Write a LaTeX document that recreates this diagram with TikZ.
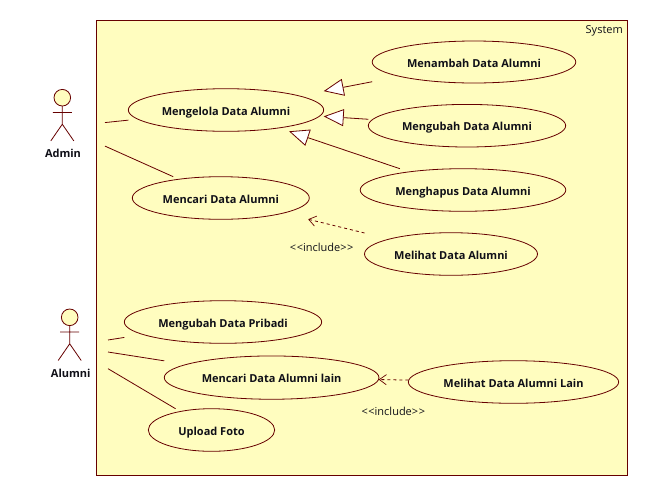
\documentclass[tikz,border=0pt]{standalone}
\usepackage{fontspec}
\setmainfont{Open Sans}
\usetikzlibrary{arrows.meta,shapes.geometric,calc}
\definecolor{umlline}{HTML}{660000}
\definecolor{umlfill}{HTML}{FFFDBF}
\definecolor{umltext}{HTML}{101018}
\tikzset{
  lineink/.style={draw=umlline,line width=0.8pt},
  frameshape/.style={lineink,fill=umlfill},
  ucshape/.style={ellipse,lineink,fill=umlfill,inner sep=0pt,text=umltext,text height=10pt,text depth=0pt,font=\fontsize{11}{13}\selectfont\bfseries},
  ucbox/.style={rectangle,inner sep=0pt,outer sep=0pt},
  actorbox/.style={rectangle,inner sep=0pt,outer sep=0pt},
  actorlabel/.style={inner sep=0pt,text=umltext,font=\fontsize{11}{13}\selectfont\bfseries},
  plainlabel/.style={inner sep=0pt,text=umltext,font=\fontsize{11}{13}\selectfont},
  assoc/.style={lineink},
  generalize/.style={lineink,-{Triangle[width=17pt,length=20pt,fill=white]}},
  includes/.style={lineink,dash pattern=on 3pt off 3pt,-{Straight Barb[length=7pt,width=10pt,line width=0.7pt,round]}}
}
% name, centre, full width, full height, text
\newcommand{\usecasenode}[5]{%
  \node[ucshape,minimum width=#3pt,minimum height=#4pt] (#1) at (#2) {#5};
  \node[ucbox,minimum width=#3pt,minimum height=#4pt] (#1box) at (#2) {};
}
% name, head centre
\newcommand{\stickfigure}[2]{%
  \coordinate (#1head) at (#2);
  \draw[lineink,fill=umlfill] (#1head) circle (8.3pt);
  \draw[lineink] ($(#1head)+(0,8.3)$) -- ($(#1head)+(0,26.5)$) coordinate (#1hip)
    (#1hip) -- ($(#1hip)+(-11.5,16.7)$)
    (#1hip) -- ($(#1hip)+(11.5,16.7)$)
    ($(#1head)+(-9.5,14.7)$) -- ($(#1head)+(9.5,14.7)$);
}
\begin{document}
\begin{tikzpicture}[x=1pt,y=-1pt]
\useasboundingbox (0,0) rectangle (648,496);
\fill[white] (0,0) rectangle (648,496);
\node[frameshape,rectangle,inner sep=0pt,minimum width=531pt,minimum height=455pt,anchor=north west] (system) at (96.3,20.3) {};
\node[plainlabel,anchor=north east] (systemlabel) at (623,25) {System};

\usecasenode{kelola}{226,110}{195.4}{42.6}{Mengelola Data Alumni}
\usecasenode{cari}{220.8,198}{177}{42.6}{Mencari Data Alumni}
\usecasenode{tambah}{474,62}{203.6}{42}{Menambah Data Alumni}
\usecasenode{ubah}{467,125.7}{197.4}{42.6}{Mengubah Data Alumni}
\usecasenode{hapus}{463,190}{205.6}{42.6}{Menghapus Data Alumni}
\usecasenode{lihat}{451,254}{173}{42.6}{Melihat Data Alumni}
\usecasenode{pribadi}{223,322}{197.4}{42.6}{Mengubah Data Pribadi}
\usecasenode{carilain}{271.6,377.6}{214.7}{43.3}{Mencari Data Alumni lain}
\usecasenode{foto}{211.5,430}{126.4}{42.6}{Upload Foto}
\usecasenode{lihatlain}{513.5,382}{210.4}{42.6}{Melihat Data Alumni Lain}

\stickfigure{adm}{62.3,97.7}
\stickfigure{alu}{69.7,317.3}
\node[actorbox,minimum width=85.4pt,minimum height=60pt] (admin) at (62.3,127) {};
\node[actorbox,minimum width=76.6pt,minimum height=60pt] (alumni) at (69.7,346) {};
\node[actorlabel] (adminlabel) at (63,153) {Admin};
\node[actorlabel] (alumnilabel) at (70.7,373) {Alumni};

\draw[assoc] (admin) -- (kelolabox);
\draw[assoc] (admin) -- (caribox);
\draw[assoc] (alumni) -- (pribadibox);
\draw[assoc] (alumni) -- (carilainbox);
\draw[assoc] (alumni) -- (fotobox);

\draw[generalize] (tambahbox) -- (kelolabox);
\draw[generalize] (ubahbox) -- (kelolabox);
\draw[generalize] (hapusbox) -- (kelolabox);

\draw[includes] (lihatbox) -- (caribox);
\draw[includes] (lihatlainbox) -- (carilainbox);

\node[plainlabel] (inc1) at (321.7,247.3) {<{\kern0.6pt}<include>{\kern0.6pt}>};
\node[plainlabel] (inc2) at (393.3,411.3) {<{\kern0.6pt}<include>{\kern0.6pt}>};
\end{tikzpicture}
\end{document}
